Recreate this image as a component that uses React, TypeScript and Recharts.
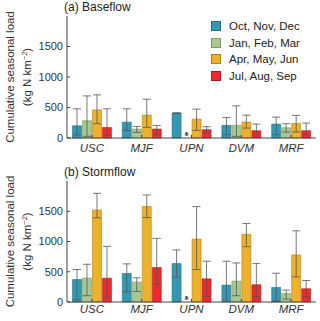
import {
  BarChart,
  Bar,
  XAxis,
  YAxis,
  ErrorBar,
  Rectangle,
} from 'recharts';

const SITES = ['USC', 'MJF', 'UPN', 'DVM', 'MRF'];
const SEASONS = ['Oct, Nov, Dec', 'Jan, Feb, Mar', 'Apr, May, Jun', 'Jul, Aug, Sep'];
const Y_TICKS = [0, 500, 1000, 1500];

// baseflow: bar value, whisker low, whisker high
const BASE_OND = [200, 260, 408, 207, 228];
const BASE_OND_LO = [50, 125, 400, 54, 54];
const BASE_OND_HI = [478, 478, 414, 337, 342];
const BASE_JFM = [283, 147, 0, 207, 168];
const BASE_JFM_LO = [27, 92, null, 27, 98];
const BASE_JFM_HI = [690, 190, null, 527, 234];
const BASE_AMJ = [460, 375, 310, 261, 239];
const BASE_AMJ_LO = [234, 174, 125, 163, 98];
const BASE_AMJ_HI = [707, 636, 473, 375, 370];
const BASE_JAS = [172, 147, 136, 120, 120];
const BASE_JAS_LO = [43, 54, 82, 54, 54];
const BASE_JAS_HI = [478, 206, 185, 228, 245];

// stormflow
const STORM_OND = [372, 471, 635, 279, 241];
const STORM_OND_LO = [38, 170, 411, 11, 16];
const STORM_OND_HI = [537, 630, 860, 674, 476];
const STORM_JFM = [394, 329, 0, 345, 142];
const STORM_JFM_LO = [104, 175, null, 104, 49];
const STORM_JFM_HI = [624, 400, null, 646, 197];
const STORM_AMJ = [1522, 1577, 1040, 1117, 778];
const STORM_AMJ_LO = [1391, 1396, 537, 914, 416];
const STORM_AMJ_HI = [1796, 1769, 1577, 1298, 1177];
const STORM_JAS = [394, 570, 383, 285, 219];
const STORM_JAS_LO = [82, 296, 93, 82, 82];
const STORM_JAS_HI = [920, 1051, 674, 635, 356];

const COLORS = ['#3399b3', '#a8c890', '#edb12c', '#ee2a2e'];
const STROKES = ['#23707f', '#7c9a68', '#b08218', '#b01c1f'];
const AXIS = '#444';
const FONT = '"Liberation Sans", Arial, sans-serif';

function err(v: number, lo: number | null, hi: number | null) {
  if (lo == null || hi == null) return null;
  return [v - lo, hi - v];
}

function buildRows(series: { v: number[]; lo: (number | null)[]; hi: (number | null)[] }[]) {
  return SITES.map((site, i) => {
    const row: any = { site };
    series.forEach((s, k) => {
      row['s' + k] = s.v[i];
      row['e' + k] = err(s.v[i], s.lo[i], s.hi[i]);
      // marker for a season with no data
      row['m' + k] = s.lo[i] == null;
    });
    return row;
  });
}

const baseRows = buildRows([
  { v: BASE_OND, lo: BASE_OND_LO, hi: BASE_OND_HI },
  { v: BASE_JFM, lo: BASE_JFM_LO, hi: BASE_JFM_HI },
  { v: BASE_AMJ, lo: BASE_AMJ_LO, hi: BASE_AMJ_HI },
  { v: BASE_JAS, lo: BASE_JAS_LO, hi: BASE_JAS_HI },
]);

const stormRows = buildRows([
  { v: STORM_OND, lo: STORM_OND_LO, hi: STORM_OND_HI },
  { v: STORM_JFM, lo: STORM_JFM_LO, hi: STORM_JFM_HI },
  { v: STORM_AMJ, lo: STORM_AMJ_LO, hi: STORM_AMJ_HI },
  { v: STORM_JAS, lo: STORM_JAS_LO, hi: STORM_JAS_HI },
]);

// bar shape that draws a small asterisk marker where a season has no data
const makeShape = (k: number) => (props: any) => {
  const { x, y, width, height, payload } = props;
  if (payload && payload['m' + k]) {
    const cx = x + width / 2;
    const cy = y + height - 4;
    const r = 2;
    return (
      <g stroke="#444" strokeWidth={0.9}>
        <line x1={cx - r} y1={cy} x2={cx + r} y2={cy} />
        <line x1={cx - r * 0.6} y1={cy - r * 0.8} x2={cx + r * 0.6} y2={cy + r * 0.8} />
        <line x1={cx - r * 0.6} y1={cy + r * 0.8} x2={cx + r * 0.6} y2={cy - r * 0.8} />
        <line x1={cx} y1={cy - r} x2={cx} y2={cy + r} />
      </g>
    );
  }
  return <Rectangle {...props} />;
};

const YLabel = (props: any) => {
  const { viewBox } = props;
  const cy = viewBox.y + viewBox.height / 2;
  return (
    <g fontFamily={FONT} fontSize={11.5} fill="#333">
      <text x={14} y={cy} textAnchor="middle" transform={`rotate(-90 14 ${cy})`}>
        Cumulative seasonal load
      </text>
      <text x={31} y={cy} textAnchor="middle" transform={`rotate(-90 31 ${cy})`}>
        (kg N km
        <tspan dy={-4} fontSize={7.5}>−2</tspan>
        <tspan dy={4}>)</tspan>
      </text>
    </g>
  );
};

function Panel({ rows, title, height, top, bottom, tickMargin }: any) {
  return (
    <div style={{ position: 'relative', width: 320, height }}>
      <div
        style={{
          position: 'absolute',
          left: 64,
          top: top - 16,
          fontFamily: FONT,
          fontSize: 12,
          color: '#222',
          whiteSpace: 'nowrap',
        }}
      >
        {title}
      </div>
      <BarChart
        width={320}
        height={height}
        data={rows}
        margin={{ top, right: 4, left: 0, bottom: 0 }}
        barCategoryGap="11%"
        barGap={1}
      >
        <XAxis
          dataKey="site"
          height={bottom}
          stroke={AXIS}
          tickSize={-3}
          tickMargin={tickMargin}
          tick={{ fontSize: 11.5, fill: '#333', fontStyle: 'italic', fontFamily: FONT }}
        />
        <XAxis
          xAxisId="top"
          dataKey="site"
          orientation="top"
          height={0}
          stroke={AXIS}
          tickSize={-3}
          tickFormatter={() => ''}
        />
        <YAxis
          domain={[0, 2000]}
          ticks={Y_TICKS}
          width={67}
          stroke={AXIS}
          tickSize={-3}
          tickMargin={7}
          interval={0}
          tick={{ fontSize: 11, fill: '#333', fontFamily: FONT }}
          label={<YLabel />}
        />
        <YAxis
          yAxisId="right"
          orientation="right"
          domain={[0, 2000]}
          ticks={Y_TICKS}
          width={0}
          stroke={AXIS}
          tickSize={-3}
          tickFormatter={() => ''}
        />
        {SEASONS.map((name, k) => (
          <Bar
            key={k}
            dataKey={'s' + k}
            name={name}
            fill={COLORS[k]}
            stroke={STROKES[k]}
            strokeWidth={0.6}
            isAnimationActive={false}
            shape={makeShape(k)}
          >
            <ErrorBar dataKey={'e' + k} width={4} stroke="#555" strokeWidth={0.8} />
          </Bar>
        ))}
      </BarChart>
    </div>
  );
}

function Legend() {
  return (
    <div
      style={{
        position: 'absolute',
        left: 211,
        top: 18,
        background: '#fff',
        fontFamily: FONT,
        fontSize: 11.5,
        color: '#222',
        lineHeight: '16.6px',
        paddingRight: 2,
      }}
    >
      {SEASONS.map((s, k) => (
        <div key={s} style={{ display: 'flex', alignItems: 'center', whiteSpace: 'nowrap' }}>
          <span
            style={{
              display: 'inline-block',
              width: 8,
              height: 8,
              background: COLORS[k],
              border: `0.8px solid ${STROKES[k]}`,
              marginRight: 8,
            }}
          />
          {s}
        </div>
      ))}
    </div>
  );
}

export default function App() {
  return (
    <div style={{ position: 'absolute', left: 0, top: 0, width: 320, height: 321, background: '#fff' }}>
      <Panel rows={baseRows} title="(a) Baseflow" height={160} top={16} bottom={22} tickMargin={9} />
      <Panel rows={stormRows} title="(b) Stormflow" height={161} top={21} bottom={19} tickMargin={6} />
      <Legend />
    </div>
  );
}
